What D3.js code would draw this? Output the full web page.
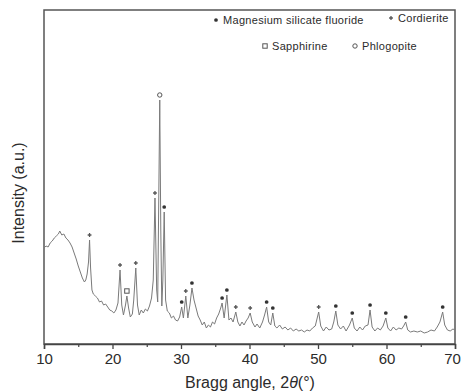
<!DOCTYPE html>
<html>
  <head>
    <meta charset="utf-8">
    <title>XRD pattern</title>
    <script src="https://d3js.org/d3.v7.min.js"></script>
    <style>
      body { margin: 0; background: #fff; }
      text { font-family: Arial, "Liberation Sans", sans-serif; fill: #2b2b2b; }
    </style>
  </head>
  <body>
    <svg id="canvas" width="462" height="392"></svg>
    <script>
      // diffraction pattern: 2theta (deg) and intensity (a.u.)
      var angles = [10.0,10.3,10.6,10.9,11.2,11.5,11.8,12.1,12.3,12.6,12.9,13.2,13.5,13.8,14.1,14.4,14.7,15.0,15.3,15.6,15.9,16.1,16.3,16.5,16.65,16.8,17.0,17.2,17.5,17.8,18.1,18.4,18.7,19.0,19.3,19.6,19.9,20.2,20.5,20.8,21.1,21.35,21.6,21.9,22.1,22.35,22.6,22.9,23.1,23.4,23.65,23.9,24.2,24.5,24.8,25.1,25.4,25.7,25.95,26.2,26.45,26.6,26.75,26.9,27.05,27.2,27.35,27.55,27.75,28.0,28.3,28.6,28.9,29.2,29.5,29.8,30.1,30.35,30.7,31.0,31.3,31.6,31.9,32.2,32.5,32.8,33.1,33.4,33.7,34.0,34.3,34.6,34.9,35.2,35.5,35.8,36.0,36.3,36.7,37.0,37.3,37.6,38.0,38.3,38.6,38.9,39.2,39.5,39.8,40.1,40.4,40.8,41.1,41.5,41.9,42.2,42.5,42.8,43.1,43.4,43.7,44.0,44.4,44.8,45.2,45.6,46.0,46.4,46.8,47.2,47.6,48.0,48.4,48.8,49.2,49.6,50.1,50.4,50.8,51.2,51.6,52.0,52.3,52.6,52.9,53.3,53.7,54.1,54.6,55.0,55.3,55.7,56.1,56.5,56.9,57.3,57.6,57.9,58.3,58.7,59.1,59.5,59.9,60.2,60.6,61.0,61.4,61.8,62.2,62.5,62.8,63.1,63.5,64.0,64.5,65.0,65.5,66.0,66.5,67.0,67.4,67.8,68.2,68.5,68.9,69.3,69.7,70.0];
      var intensity = [96,98,97,101,103,106,108,110,113,109,110,106,104,101,97,91,85,78,72,66,62,64,70,82,104,76,54,50,48,46,42,43,39,40,37,34,33,31,34,41,74,39,29,39,48,36,27,30,44,76,39,29,34,31,35,33,38,46,64,146,54,42,144,244,114,38,64,132,44,33,31,26,28,24,23,27,37,26,48,26,39,56,44,36,28,24,19,22,16,19,17,22,20,26,30,36,41,26,49,24,26,22,32,22,18,22,19,23,26,31,22,17,20,16,22,29,37,22,19,31,18,16,19,15,17,14,16,13,15,13,14,12,14,13,16,18,32,18,13,17,14,15,22,33,19,15,18,13,19,26,16,13,17,14,18,19,34,17,13,16,14,18,26,16,13,17,14,16,15,18,22,14,12,13,12,13,11,12,14,13,17,22,32,19,14,13,15,14];

      // peak assignments (2theta of the marked reflections)
      var msfPeaks = [27.55,30.1,31.6,36.0,36.7,42.5,43.4,52.6,55.0,57.6,59.9,62.8,68.2];
      var cordieritePeaks = [16.65,21.1,23.4,26.2,30.7,38.0,40.1,50.1];
      var sapphirinePeaks = [22.1];
      var phlogopitePeaks = [26.9];

      var xTicks = [10,20,30,40,50,60,70];
      var xMinorTicks = [15,25,35,45,55,65];

      var svg = d3.select("#canvas");

      var mLeft = 44, mRight = 455, mTop = 10, mBottom = 344;

      var x = d3.scaleLinear().domain([10, 70]).range([mLeft, mRight]);
      var y = d3.scaleLinear().domain([0, 334]).range([mBottom, mTop]);

      var data = angles.map(function(a, i){ return {a: a, v: intensity[i]}; });

      // frame
      svg.append("rect")
        .attr("x", mLeft).attr("y", mTop)
        .attr("width", mRight - mLeft).attr("height", mBottom - mTop)
        .style("fill", "none").style("stroke", "#555").style("stroke-width", 1.5);

      // pattern
      var line = d3.line()
        .x(function(d){ return x(d.a); })
        .y(function(d){ return y(d.v); });

      svg.append("path")
        .datum(data)
        .attr("d", line)
        .style("fill", "none")
        .style("stroke", "#7a7a7a")
        .style("stroke-width", 1);

      // x axis
      var xAxis = d3.axisBottom(x).tickValues(xTicks).tickSize(5).tickPadding(4);
      var gx = svg.append("g").attr("transform", "translate(0," + mBottom + ")").call(xAxis);
      gx.select(".domain").style("stroke", "#444").style("stroke-width", 1.5);
      gx.selectAll(".tick line").style("stroke", "#444").style("stroke-width", 1.3);
      gx.selectAll(".tick text")
        .style("font-size", "15px")
        .style("fill", "#2b2b2b")
        .style("font-family", "Arial, 'Liberation Sans', sans-serif");
      // last label sits against the edge, as in the original
      gx.selectAll(".tick text").filter(function(d){ return d === 70; })
        .attr("dx", "-3px");

      var xMinor = d3.axisBottom(x).tickValues(xMinorTicks).tickSize(3).tickFormat("");
      var gm = svg.append("g").attr("transform", "translate(0," + mBottom + ")").call(xMinor);
      gm.select(".domain").remove();
      gm.selectAll(".tick line").style("stroke", "#444").style("stroke-width", 1.2);

      // axis titles
      var xt = svg.append("text")
        .attr("x", 250)
        .attr("y", 388)
        .style("text-anchor", "middle")
        .style("font-size", "16px");
      xt.append("tspan").text("Bragg angle, 2");
      xt.append("tspan").style("font-style", "italic").text("θ");
      xt.append("tspan").text("(°)");

      svg.append("text")
        .attr("transform", "translate(24," + 193 + ") rotate(-90)")
        .style("text-anchor", "middle")
        .style("font-size", "16px")
        .text("Intensity (a.u.)");

      // markers
      function peakValue(a){
        var best = data[0];
        data.forEach(function(d){ if (Math.abs(d.a - a) < Math.abs(best.a - a)) best = d; });
        return best.v;
      }

      var dot = d3.symbol().type(d3.symbolCircle).size(11);
      var cross = d3.symbol().type(d3.symbolCross).size(8);

      function drawMarkers(peaks, kind){
        var g = svg.append("g");
        peaks.forEach(function(a){
          var px = x(a), py = y(peakValue(a)) - 5;
          addMarker(g, kind, px, py);
        });
      }

      function addMarker(g, kind, px, py){
        if (kind === "msf") {
          g.append("path").attr("d", dot).attr("transform", "translate(" + px + "," + py + ")")
            .style("fill", "#333");
        } else if (kind === "cord") {
          g.append("path").attr("d", cross).attr("transform", "translate(" + px + "," + py + ")")
            .style("fill", "#555");
        } else if (kind === "sapph") {
          g.append("rect").attr("x", px - 2.2).attr("y", py - 2.2).attr("width", 4.4).attr("height", 4.4)
            .style("fill", "none").style("stroke", "#555").style("stroke-width", 1);
        } else {
          g.append("circle").attr("cx", px).attr("cy", py).attr("r", 2.2)
            .style("fill", "none").style("stroke", "#555").style("stroke-width", 1);
        }
      }

      drawMarkers(msfPeaks, "msf");
      drawMarkers(cordieritePeaks, "cord");
      drawMarkers(sapphirinePeaks, "sapph");
      drawMarkers(phlogopitePeaks, "phlog");

      // legend
      var legend = [
        {kind: "msf", label: "Magnesium silicate fluoride", mx: 216, my: 20},
        {kind: "cord", label: "Cordierite", mx: 391, my: 18},
        {kind: "sapph", label: "Sapphirine", mx: 265, my: 46},
        {kind: "phlog", label: "Phlogopite", mx: 355, my: 46}
      ];
      var lg = svg.append("g");
      legend.forEach(function(l){
        addMarker(lg, l.kind, l.mx, l.my);
        lg.append("text")
          .attr("x", l.mx + 7)
          .attr("y", l.my + 4)
          .style("font-size", "11px")
          .style("letter-spacing", "0.3px")
          .text(l.label);
      });
    </script>
  </body>
</html>
